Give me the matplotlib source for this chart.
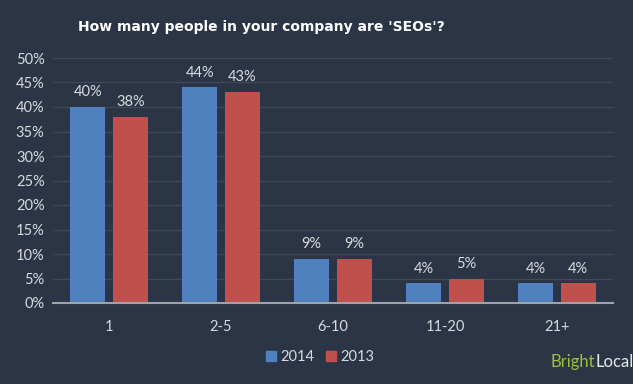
import numpy as np
import matplotlib
matplotlib.use('Agg')
import matplotlib.pyplot as plt
from matplotlib.patches import Patch

categories = ['1', '2-5', '6-10', '11-20', '21+']
values_2014 = [40, 44, 9, 4, 4]
values_2013 = [38, 43, 9, 5, 4]
series_labels = ['2014', '2013']

BG = '#2b3545'
BLUE = '#4f81bd'
RED = '#c0504d'
TXT = '#d8dade'

plt.rcParams['font.family'] = ['Lato', 'DejaVu Sans']

fig = plt.figure(figsize=(6.33, 3.84), dpi=100)
fig.patch.set_facecolor(BG)
ax = fig.add_axes([53 / 633, 1 - 303 / 384, 560 / 633, 245 / 384])
ax.set_facecolor(BG)

x = np.arange(len(categories))
w = 0.31
off = 0.19
b1 = ax.bar(x - off, values_2014, w, color=BLUE, zorder=3)
b2 = ax.bar(x + off, values_2013, w, color=RED, zorder=3)

for bars, vals in [(b1, values_2014), (b2, values_2013)]:
    for r, v in zip(bars, vals):
        ax.text(r.get_x() + r.get_width() / 2, v + 1.6, f'{v}%',
                ha='center', va='bottom', color=TXT, fontsize=10.5)

ax.set_xlim(-0.5, len(categories) - 0.5)
ax.set_ylim(0, 50)
ax.set_yticks(np.arange(0, 51, 5))
ax.set_yticklabels([f'{t}%' for t in range(0, 51, 5)])
ax.set_xticks(x)
ax.set_xticklabels(categories)
ax.tick_params(axis='both', colors=TXT, labelsize=10.5, length=0)
ax.tick_params(axis='x', pad=12)
ax.tick_params(axis='y', pad=6)
ax.yaxis.grid(True, color='#3f495a', linewidth=1, zorder=0)
for s in ['top', 'right', 'left']:
    ax.spines[s].set_visible(False)
ax.spines['bottom'].set_color('#9da3ab')
ax.spines['bottom'].set_linewidth(1.5)
ax.spines['bottom'].set_zorder(4)

fig.text(261 / 633, 1 - 27 / 384, "How many people in your company are 'SEOs'?",
         ha='center', va='center', color='white', fontsize=10,
         fontweight='bold', family='DejaVu Sans')

handles = [Patch(color=BLUE), Patch(color=RED)]
fig.legend(handles, series_labels, loc='center', bbox_to_anchor=(320 / 633, 1 - 357 / 384),
           ncol=2, frameon=False, fontsize=10.5, labelcolor=TXT,
           handlelength=0.7, handleheight=0.7, handletextpad=0.3, columnspacing=0.8)

# logo: "Bright" in green followed directly by "Local"
t1 = fig.text(551 / 633, 1 - 362 / 384, 'Bright', color='#9dc33b', fontsize=12,
              ha='left', va='center')
fig.canvas.draw()
bb = t1.get_window_extent()
fig.text(bb.x1 / fig.bbox.width, 1 - 362 / 384, 'Local', color='#e8e8e8', fontsize=12,
         ha='left', va='center')

fig.savefig('out.png', dpi=100, facecolor=BG)
